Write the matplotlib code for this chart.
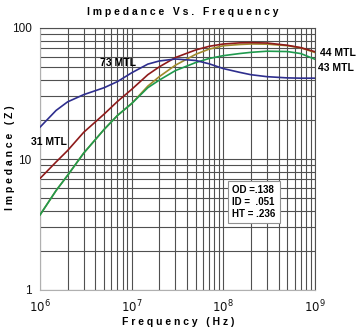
import matplotlib
matplotlib.use("Agg")
import matplotlib.pyplot as plt
from matplotlib.ticker import LogLocator, NullFormatter, FixedLocator

plt.rcParams['font.family'] = ['Liberation Sans', 'DejaVu Sans']

freq = [1e6, 1.5e6, 2e6, 3e6, 5e6, 7e6, 1e7, 1.5e7, 2e7, 3e7, 5e7, 7e7,
        1e8, 1.5e8, 2e8, 3e8, 5e8, 7e8, 1e9]
z73 = [17.5, 23.5, 27.3, 31, 35, 39, 45.5, 53, 56, 58, 56.5, 53.3,
       49, 45.9, 44, 42.5, 41.6, 41.4, 41.4]
z31 = [7.1, 9.5, 11.6, 16, 22, 27.5, 34, 44, 50.5, 59.5, 68, 72.5,
       75.5, 77, 77.3, 76.8, 73.8, 70.8, 65.9]
z44 = [3.74, 5.75, 7.5, 11.1, 16.8, 21.5, 26.5, 36, 42.5, 52, 63, 69,
       73.2, 74.8, 75.5, 75.3, 73.3, 70.5, 65]
z43 = [3.74, 5.75, 7.5, 11.1, 16.8, 21.5, 26.5, 35, 40, 47.3, 54.5, 58.5,
       61.5, 63.8, 65.2, 66.5, 66.1, 63.8, 57.7]

series = [
    (z44, '#a08a2c'),
    (z43, '#1f9a4e'),
    (z31, '#8e1a1a'),
    (z73, '#2e2e8e'),
]

fig = plt.figure(figsize=(3.6, 3.32), dpi=100)
ax = fig.add_axes([40/360, 1-290/332, 275/360, 262/332])
ax.set_xscale('log')
ax.set_yscale('log')
ax.set_xlim(1e6, 1e9)
ax.set_ylim(1, 100)

ax.xaxis.set_major_locator(FixedLocator([1e6, 1e7, 1e8, 1e9]))
ax.xaxis.set_minor_locator(LogLocator(base=10, subs=range(2, 10)))
ax.yaxis.set_major_locator(FixedLocator([1, 10, 100]))
ax.yaxis.set_minor_locator(LogLocator(base=10, subs=range(2, 10)))
ax.xaxis.set_minor_formatter(NullFormatter())
ax.yaxis.set_minor_formatter(NullFormatter())
ax.set_xticklabels(['$10^6$', '$10^7$', '$10^8$', '$10^9$'])
ax.set_yticklabels(['1', '10', '100'])
ax.tick_params(which='both', length=0, labelsize=8.5, colors='#111111')
ax.tick_params(axis='x', pad=6)
ax.tick_params(axis='y', pad=6)
plt.setp(ax.get_xticklabels(), fontfamily=['DejaVu Sans'])

ax.grid(True, which='both', color='#505050', linewidth=0.8)
for s in ['top', 'right']:
    ax.spines[s].set_color('#505050')
    ax.spines[s].set_linewidth(0.8)
for s in ['left', 'bottom']:
    ax.spines[s].set_color('#b0b0b0')
    ax.spines[s].set_linewidth(0.8)

for z, c in series:
    ax.plot(freq, z, color=c, linewidth=1.2, zorder=3, solid_joinstyle='round')

fig.text(183/360, 1-12/332, 'I m p e d a n c e   V s .   F r e q u e n c y',
         ha='center', va='center', fontsize=7.5, fontweight='bold')
fig.text(178/360, 1-322/332, 'F r e q u e n c y   ( H z )',
         ha='center', va='center', fontsize=7.5, fontweight='bold')
fig.text(10/360, 1-158/332, 'I m p e d a n c e   ( Z )',
         ha='center', va='center', fontsize=7.5, fontweight='bold', rotation=90)

def px(x, y):
    return (x/360, 1-y/332)

fig.text(*px(100, 63), '73 MTL', ha='left', va='center', fontsize=7.5, fontweight='bold')
fig.text(*px(31, 142), '31 MTL', ha='left', va='center', fontsize=7.5, fontweight='bold')
fig.text(*px(320, 53), '44 MTL', ha='left', va='center', fontsize=7.5, fontweight='bold')
fig.text(*px(318, 68), '43 MTL', ha='left', va='center', fontsize=7.5, fontweight='bold')

fig.text(*px(232, 202), 'OD =.138\nID =  .051\nHT = .236', ha='left', va='center',
         fontsize=7, fontweight='bold', linespacing=1.25,
         bbox=dict(boxstyle='square,pad=0.45', facecolor='white', edgecolor='#909090', linewidth=0.8))

fig.savefig('out.png', dpi=100)
